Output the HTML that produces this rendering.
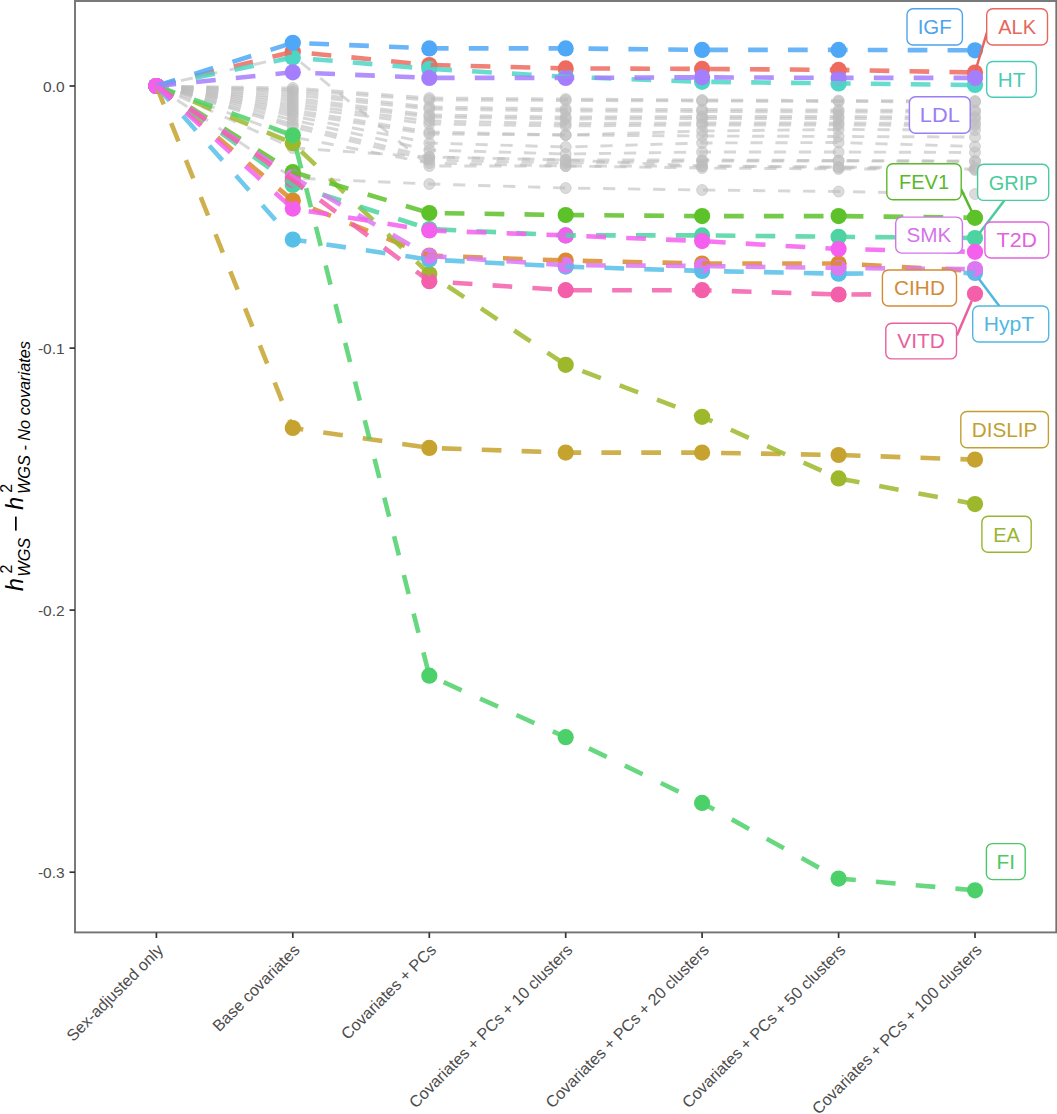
<!DOCTYPE html><html><head><meta charset="utf-8"><style>html,body{margin:0;padding:0;background:#fff;}svg{display:block;}text{font-family:"Liberation Sans",sans-serif;}</style></head><body>
<svg width="1057" height="1114" viewBox="0 0 1057 1114">
<rect x="0" y="0" width="1057" height="1114" fill="#fff"/>
<defs><clipPath id="pc"><rect x="75" y="1" width="980.5" height="931.5"/></clipPath></defs>
<g clip-path="url(#pc)">
<g fill="#BDBDBD" fill-opacity="0.55" stroke="#BDBDBD" stroke-opacity="0.55" stroke-width="1">
<circle cx="292.8" cy="88" r="5.5"/>
<circle cx="429.3" cy="98" r="5.5"/>
<circle cx="565.7" cy="99" r="5.5"/>
<circle cx="702.1" cy="100" r="5.5"/>
<circle cx="838.6" cy="100.5" r="5.5"/>
<circle cx="975" cy="101" r="5.5"/>
<circle cx="292.8" cy="90" r="5.5"/>
<circle cx="429.3" cy="100" r="5.5"/>
<circle cx="565.7" cy="100.5" r="5.5"/>
<circle cx="702.1" cy="101" r="5.5"/>
<circle cx="838.6" cy="101.5" r="5.5"/>
<circle cx="975" cy="102" r="5.5"/>
<circle cx="292.8" cy="92" r="5.5"/>
<circle cx="429.3" cy="107" r="5.5"/>
<circle cx="565.7" cy="109" r="5.5"/>
<circle cx="702.1" cy="109.5" r="5.5"/>
<circle cx="838.6" cy="110" r="5.5"/>
<circle cx="975" cy="110.5" r="5.5"/>
<circle cx="292.8" cy="95" r="5.5"/>
<circle cx="429.3" cy="109" r="5.5"/>
<circle cx="565.7" cy="111" r="5.5"/>
<circle cx="702.1" cy="111.5" r="5.5"/>
<circle cx="838.6" cy="112" r="5.5"/>
<circle cx="975" cy="112" r="5.5"/>
<circle cx="292.8" cy="98" r="5.5"/>
<circle cx="429.3" cy="115" r="5.5"/>
<circle cx="565.7" cy="117" r="5.5"/>
<circle cx="702.1" cy="116.5" r="5.5"/>
<circle cx="838.6" cy="116.5" r="5.5"/>
<circle cx="975" cy="117" r="5.5"/>
<circle cx="292.8" cy="101" r="5.5"/>
<circle cx="429.3" cy="117" r="5.5"/>
<circle cx="565.7" cy="119" r="5.5"/>
<circle cx="702.1" cy="118.5" r="5.5"/>
<circle cx="838.6" cy="118.5" r="5.5"/>
<circle cx="975" cy="119" r="5.5"/>
<circle cx="292.8" cy="104" r="5.5"/>
<circle cx="429.3" cy="121" r="5.5"/>
<circle cx="565.7" cy="123.5" r="5.5"/>
<circle cx="702.1" cy="123" r="5.5"/>
<circle cx="838.6" cy="123" r="5.5"/>
<circle cx="975" cy="123.5" r="5.5"/>
<circle cx="292.8" cy="107" r="5.5"/>
<circle cx="429.3" cy="124" r="5.5"/>
<circle cx="565.7" cy="126" r="5.5"/>
<circle cx="702.1" cy="125" r="5.5"/>
<circle cx="838.6" cy="125" r="5.5"/>
<circle cx="975" cy="125.5" r="5.5"/>
<circle cx="292.8" cy="110" r="5.5"/>
<circle cx="429.3" cy="132" r="5.5"/>
<circle cx="565.7" cy="135" r="5.5"/>
<circle cx="702.1" cy="131" r="5.5"/>
<circle cx="838.6" cy="129.5" r="5.5"/>
<circle cx="975" cy="130" r="5.5"/>
<circle cx="292.8" cy="113" r="5.5"/>
<circle cx="429.3" cy="134" r="5.5"/>
<circle cx="565.7" cy="135" r="5.5"/>
<circle cx="702.1" cy="136" r="5.5"/>
<circle cx="838.6" cy="136.5" r="5.5"/>
<circle cx="975" cy="137" r="5.5"/>
<circle cx="292.8" cy="116" r="5.5"/>
<circle cx="429.3" cy="143" r="5.5"/>
<circle cx="565.7" cy="147" r="5.5"/>
<circle cx="702.1" cy="143" r="5.5"/>
<circle cx="838.6" cy="142.5" r="5.5"/>
<circle cx="975" cy="146.5" r="5.5"/>
<circle cx="292.8" cy="120" r="5.5"/>
<circle cx="429.3" cy="150" r="5.5"/>
<circle cx="565.7" cy="154" r="5.5"/>
<circle cx="702.1" cy="152" r="5.5"/>
<circle cx="838.6" cy="152" r="5.5"/>
<circle cx="975" cy="152.5" r="5.5"/>
<circle cx="292.8" cy="124" r="5.5"/>
<circle cx="429.3" cy="157" r="5.5"/>
<circle cx="565.7" cy="160" r="5.5"/>
<circle cx="702.1" cy="160" r="5.5"/>
<circle cx="838.6" cy="160.5" r="5.5"/>
<circle cx="975" cy="161" r="5.5"/>
<circle cx="292.8" cy="127" r="5.5"/>
<circle cx="429.3" cy="160" r="5.5"/>
<circle cx="565.7" cy="163" r="5.5"/>
<circle cx="702.1" cy="161" r="5.5"/>
<circle cx="838.6" cy="161" r="5.5"/>
<circle cx="975" cy="161.5" r="5.5"/>
<circle cx="292.8" cy="137" r="5.5"/>
<circle cx="429.3" cy="163" r="5.5"/>
<circle cx="565.7" cy="166" r="5.5"/>
<circle cx="702.1" cy="166" r="5.5"/>
<circle cx="838.6" cy="167" r="5.5"/>
<circle cx="975" cy="168" r="5.5"/>
<circle cx="292.8" cy="148" r="5.5"/>
<circle cx="429.3" cy="157" r="5.5"/>
<circle cx="565.7" cy="160" r="5.5"/>
<circle cx="702.1" cy="166" r="5.5"/>
<circle cx="838.6" cy="167.5" r="5.5"/>
<circle cx="975" cy="170" r="5.5"/>
<circle cx="292.8" cy="178" r="5.5"/>
<circle cx="429.3" cy="184" r="5.5"/>
<circle cx="565.7" cy="188" r="5.5"/>
<circle cx="702.1" cy="190" r="5.5"/>
<circle cx="838.6" cy="191.5" r="5.5"/>
<circle cx="975" cy="194" r="5.5"/>
<circle cx="292.8" cy="56" r="5.5"/>
<circle cx="429.3" cy="166" r="5.5"/>
<circle cx="565.7" cy="166" r="5.5"/>
<circle cx="702.1" cy="168" r="5.5"/>
<circle cx="838.6" cy="169" r="5.5"/>
<circle cx="975" cy="169" r="5.5"/>
</g>
<g fill="none" stroke="#BDBDBD" stroke-opacity="0.6" stroke-width="2.9" stroke-dasharray="12.2 12.8">
<polyline points="156.4,86 292.8,88 429.3,98 565.7,99 702.1,100 838.6,100.5 975,101"/>
<polyline points="156.4,86 292.8,90 429.3,100 565.7,100.5 702.1,101 838.6,101.5 975,102"/>
<polyline points="156.4,86 292.8,92 429.3,107 565.7,109 702.1,109.5 838.6,110 975,110.5"/>
<polyline points="156.4,86 292.8,95 429.3,109 565.7,111 702.1,111.5 838.6,112 975,112"/>
<polyline points="156.4,86 292.8,98 429.3,115 565.7,117 702.1,116.5 838.6,116.5 975,117"/>
<polyline points="156.4,86 292.8,101 429.3,117 565.7,119 702.1,118.5 838.6,118.5 975,119"/>
<polyline points="156.4,86 292.8,104 429.3,121 565.7,123.5 702.1,123 838.6,123 975,123.5"/>
<polyline points="156.4,86 292.8,107 429.3,124 565.7,126 702.1,125 838.6,125 975,125.5"/>
<polyline points="156.4,86 292.8,110 429.3,132 565.7,135 702.1,131 838.6,129.5 975,130"/>
<polyline points="156.4,86 292.8,113 429.3,134 565.7,135 702.1,136 838.6,136.5 975,137"/>
<polyline points="156.4,86 292.8,116 429.3,143 565.7,147 702.1,143 838.6,142.5 975,146.5"/>
<polyline points="156.4,86 292.8,120 429.3,150 565.7,154 702.1,152 838.6,152 975,152.5"/>
<polyline points="156.4,86 292.8,124 429.3,157 565.7,160 702.1,160 838.6,160.5 975,161"/>
<polyline points="156.4,86 292.8,127 429.3,160 565.7,163 702.1,161 838.6,161 975,161.5"/>
<polyline points="156.4,86 292.8,137 429.3,163 565.7,166 702.1,166 838.6,167 975,168"/>
<polyline points="156.4,86 292.8,148 429.3,157 565.7,160 702.1,166 838.6,167.5 975,170"/>
<polyline points="156.4,86 292.8,178 429.3,184 565.7,188 702.1,190 838.6,191.5 975,194"/>
<polyline points="156.4,86 292.8,56 429.3,166 565.7,166 702.1,168 838.6,169 975,169"/>
</g>
<g>
<circle cx="156.4" cy="86" r="8.1" fill="#EE6A5F"/>
<circle cx="292.8" cy="51.7" r="8.1" fill="#EE6A5F"/>
<circle cx="429.3" cy="65" r="8.1" fill="#EE6A5F"/>
<circle cx="565.7" cy="68.4" r="8.1" fill="#EE6A5F"/>
<circle cx="702.1" cy="68.9" r="8.1" fill="#EE6A5F"/>
<circle cx="838.6" cy="69.9" r="8.1" fill="#EE6A5F"/>
<circle cx="975" cy="72.5" r="8.1" fill="#EE6A5F"/>
<circle cx="156.4" cy="86" r="8.1" fill="#DC8A2B"/>
<circle cx="292.8" cy="200.5" r="8.1" fill="#DC8A2B"/>
<circle cx="429.3" cy="255.6" r="8.1" fill="#DC8A2B"/>
<circle cx="565.7" cy="260.5" r="8.1" fill="#DC8A2B"/>
<circle cx="702.1" cy="263.5" r="8.1" fill="#DC8A2B"/>
<circle cx="838.6" cy="263.5" r="8.1" fill="#DC8A2B"/>
<circle cx="975" cy="271" r="8.1" fill="#DC8A2B"/>
<circle cx="156.4" cy="86" r="8.1" fill="#C6A22E"/>
<circle cx="292.8" cy="428" r="8.1" fill="#C6A22E"/>
<circle cx="429.3" cy="447.9" r="8.1" fill="#C6A22E"/>
<circle cx="565.7" cy="452.6" r="8.1" fill="#C6A22E"/>
<circle cx="702.1" cy="452.6" r="8.1" fill="#C6A22E"/>
<circle cx="838.6" cy="455" r="8.1" fill="#C6A22E"/>
<circle cx="975" cy="459.6" r="8.1" fill="#C6A22E"/>
<circle cx="156.4" cy="86" r="8.1" fill="#9DB92B"/>
<circle cx="292.8" cy="143.2" r="8.1" fill="#9DB92B"/>
<circle cx="429.3" cy="274" r="8.1" fill="#9DB92B"/>
<circle cx="565.7" cy="364.8" r="8.1" fill="#9DB92B"/>
<circle cx="702.1" cy="416.8" r="8.1" fill="#9DB92B"/>
<circle cx="838.6" cy="478.4" r="8.1" fill="#9DB92B"/>
<circle cx="975" cy="504.1" r="8.1" fill="#9DB92B"/>
<circle cx="156.4" cy="86" r="8.1" fill="#5DC12A"/>
<circle cx="292.8" cy="172" r="8.1" fill="#5DC12A"/>
<circle cx="429.3" cy="213" r="8.1" fill="#5DC12A"/>
<circle cx="565.7" cy="215" r="8.1" fill="#5DC12A"/>
<circle cx="702.1" cy="216.1" r="8.1" fill="#5DC12A"/>
<circle cx="838.6" cy="216.1" r="8.1" fill="#5DC12A"/>
<circle cx="975" cy="217.8" r="8.1" fill="#5DC12A"/>
<circle cx="156.4" cy="86" r="8.1" fill="#4CD16A"/>
<circle cx="292.8" cy="135.3" r="8.1" fill="#4CD16A"/>
<circle cx="429.3" cy="675.7" r="8.1" fill="#4CD16A"/>
<circle cx="565.7" cy="737.2" r="8.1" fill="#4CD16A"/>
<circle cx="702.1" cy="802.9" r="8.1" fill="#4CD16A"/>
<circle cx="838.6" cy="878.6" r="8.1" fill="#4CD16A"/>
<circle cx="975" cy="890.3" r="8.1" fill="#4CD16A"/>
<circle cx="156.4" cy="86" r="8.1" fill="#4DD3A2"/>
<circle cx="292.8" cy="185" r="8.1" fill="#4DD3A2"/>
<circle cx="429.3" cy="229" r="8.1" fill="#4DD3A2"/>
<circle cx="565.7" cy="235.4" r="8.1" fill="#4DD3A2"/>
<circle cx="702.1" cy="235.4" r="8.1" fill="#4DD3A2"/>
<circle cx="838.6" cy="236.8" r="8.1" fill="#4DD3A2"/>
<circle cx="975" cy="238" r="8.1" fill="#4DD3A2"/>
<circle cx="156.4" cy="86" r="8.1" fill="#4DD6C5"/>
<circle cx="292.8" cy="57.5" r="8.1" fill="#4DD6C5"/>
<circle cx="429.3" cy="68.8" r="8.1" fill="#4DD6C5"/>
<circle cx="565.7" cy="76.8" r="8.1" fill="#4DD6C5"/>
<circle cx="702.1" cy="81.8" r="8.1" fill="#4DD6C5"/>
<circle cx="838.6" cy="83.4" r="8.1" fill="#4DD6C5"/>
<circle cx="975" cy="85" r="8.1" fill="#4DD6C5"/>
<circle cx="156.4" cy="86" r="8.1" fill="#55C0E8"/>
<circle cx="292.8" cy="239.6" r="8.1" fill="#55C0E8"/>
<circle cx="429.3" cy="259.6" r="8.1" fill="#55C0E8"/>
<circle cx="565.7" cy="266.6" r="8.1" fill="#55C0E8"/>
<circle cx="702.1" cy="270.9" r="8.1" fill="#55C0E8"/>
<circle cx="838.6" cy="273.7" r="8.1" fill="#55C0E8"/>
<circle cx="975" cy="273" r="8.1" fill="#55C0E8"/>
<circle cx="156.4" cy="86" r="8.1" fill="#4FA8F7"/>
<circle cx="292.8" cy="42.8" r="8.1" fill="#4FA8F7"/>
<circle cx="429.3" cy="48.4" r="8.1" fill="#4FA8F7"/>
<circle cx="565.7" cy="48.4" r="8.1" fill="#4FA8F7"/>
<circle cx="702.1" cy="49.9" r="8.1" fill="#4FA8F7"/>
<circle cx="838.6" cy="49.9" r="8.1" fill="#4FA8F7"/>
<circle cx="975" cy="50.3" r="8.1" fill="#4FA8F7"/>
<circle cx="156.4" cy="86" r="8.1" fill="#A57EFE"/>
<circle cx="292.8" cy="72.3" r="8.1" fill="#A57EFE"/>
<circle cx="429.3" cy="77.9" r="8.1" fill="#A57EFE"/>
<circle cx="565.7" cy="77.9" r="8.1" fill="#A57EFE"/>
<circle cx="702.1" cy="77.3" r="8.1" fill="#A57EFE"/>
<circle cx="838.6" cy="77.9" r="8.1" fill="#A57EFE"/>
<circle cx="975" cy="77.9" r="8.1" fill="#A57EFE"/>
<circle cx="156.4" cy="86" r="8.1" fill="#DC78F2"/>
<circle cx="292.8" cy="177" r="8.1" fill="#DC78F2"/>
<circle cx="429.3" cy="256" r="8.1" fill="#DC78F2"/>
<circle cx="565.7" cy="265.2" r="8.1" fill="#DC78F2"/>
<circle cx="702.1" cy="266" r="8.1" fill="#DC78F2"/>
<circle cx="838.6" cy="268" r="8.1" fill="#DC78F2"/>
<circle cx="975" cy="269.1" r="8.1" fill="#DC78F2"/>
<circle cx="156.4" cy="86" r="8.1" fill="#F45FAA"/>
<circle cx="292.8" cy="180" r="8.1" fill="#F45FAA"/>
<circle cx="429.3" cy="281.2" r="8.1" fill="#F45FAA"/>
<circle cx="565.7" cy="290.2" r="8.1" fill="#F45FAA"/>
<circle cx="702.1" cy="290.2" r="8.1" fill="#F45FAA"/>
<circle cx="838.6" cy="294.5" r="8.1" fill="#F45FAA"/>
<circle cx="975" cy="293.8" r="8.1" fill="#F45FAA"/>
<circle cx="156.4" cy="86" r="8.1" fill="#F55FEE"/>
<circle cx="292.8" cy="208.6" r="8.1" fill="#F55FEE"/>
<circle cx="429.3" cy="230.5" r="8.1" fill="#F55FEE"/>
<circle cx="565.7" cy="235.4" r="8.1" fill="#F55FEE"/>
<circle cx="702.1" cy="241.1" r="8.1" fill="#F55FEE"/>
<circle cx="838.6" cy="249" r="8.1" fill="#F55FEE"/>
<circle cx="975" cy="251.8" r="8.1" fill="#F55FEE"/>
</g>
<g fill="none" stroke-width="4.6" stroke-dasharray="19.7 20.2" stroke-opacity="0.85">
<polyline points="156.4,86 292.8,51.7 429.3,65 565.7,68.4 702.1,68.9 838.6,69.9 975,72.5" stroke="#EE6A5F"/>
<polyline points="156.4,86 292.8,200.5 429.3,255.6 565.7,260.5 702.1,263.5 838.6,263.5 975,271" stroke="#DC8A2B"/>
<polyline points="156.4,86 292.8,428 429.3,447.9 565.7,452.6 702.1,452.6 838.6,455 975,459.6" stroke="#C6A22E"/>
<polyline points="156.4,86 292.8,143.2 429.3,274 565.7,364.8 702.1,416.8 838.6,478.4 975,504.1" stroke="#9DB92B"/>
<polyline points="156.4,86 292.8,172 429.3,213 565.7,215 702.1,216.1 838.6,216.1 975,217.8" stroke="#5DC12A"/>
<polyline points="156.4,86 292.8,135.3 429.3,675.7 565.7,737.2 702.1,802.9 838.6,878.6 975,890.3" stroke="#4CD16A"/>
<polyline points="156.4,86 292.8,185 429.3,229 565.7,235.4 702.1,235.4 838.6,236.8 975,238" stroke="#4DD3A2"/>
<polyline points="156.4,86 292.8,57.5 429.3,68.8 565.7,76.8 702.1,81.8 838.6,83.4 975,85" stroke="#4DD6C5"/>
<polyline points="156.4,86 292.8,239.6 429.3,259.6 565.7,266.6 702.1,270.9 838.6,273.7 975,273" stroke="#55C0E8"/>
<polyline points="156.4,86 292.8,42.8 429.3,48.4 565.7,48.4 702.1,49.9 838.6,49.9 975,50.3" stroke="#4FA8F7"/>
<polyline points="156.4,86 292.8,72.3 429.3,77.9 565.7,77.9 702.1,77.3 838.6,77.9 975,77.9" stroke="#A57EFE"/>
<polyline points="156.4,86 292.8,177 429.3,256 565.7,265.2 702.1,266 838.6,268 975,269.1" stroke="#DC78F2"/>
<polyline points="156.4,86 292.8,180 429.3,281.2 565.7,290.2 702.1,290.2 838.6,294.5 975,293.8" stroke="#F45FAA"/>
<polyline points="156.4,86 292.8,208.6 429.3,230.5 565.7,235.4 702.1,241.1 838.6,249 975,251.8" stroke="#F55FEE"/>
</g>
<g stroke-width="2.5">
<line x1="975.5" y1="70.5" x2="987.2" y2="31.6" stroke="#E5675E"/>
<line x1="960.8" y1="188.5" x2="971.7" y2="211.2" stroke="#5AB82A"/>
<line x1="1004.3" y1="200.4" x2="979.6" y2="233" stroke="#4CCB9C"/>
<line x1="999.3" y1="306" x2="978.6" y2="278.4" stroke="#50B8E0"/>
<line x1="956.9" y1="335.6" x2="971.7" y2="301" stroke="#E8619E"/>
</g>
<g font-size="20" text-anchor="middle">
<rect x="907" y="8.8" width="55.4" height="36.2" rx="6" ry="6" fill="#fff" stroke="#4FA3EC" stroke-width="1.4"/>
<text x="934.7" y="34.1" fill="#4FA3EC" textLength="34" lengthAdjust="spacingAndGlyphs">IGF</text>
<rect x="986.7" y="8.8" width="60.8" height="36.2" rx="6" ry="6" fill="#fff" stroke="#E5675E" stroke-width="1.4"/>
<text x="1017.1" y="34.1" fill="#E5675E">ALK</text>
<rect x="986.7" y="61.5" width="49.6" height="35.8" rx="6" ry="6" fill="#fff" stroke="#49CBB9" stroke-width="1.4"/>
<text x="1011.5" y="86.6" fill="#49CBB9" textLength="27.5" lengthAdjust="spacingAndGlyphs">HT</text>
<rect x="909.4" y="96.8" width="60.8" height="36.4" rx="6" ry="6" fill="#fff" stroke="#9A7EF5" stroke-width="1.4"/>
<text x="939.8" y="122.2" fill="#9A7EF5" textLength="40" lengthAdjust="spacingAndGlyphs">LDL</text>
<rect x="886.8" y="163.8" width="74.4" height="36" rx="6" ry="6" fill="#fff" stroke="#5AB82A" stroke-width="1.4"/>
<text x="924" y="189" fill="#5AB82A">FEV1</text>
<rect x="977.6" y="164.2" width="71.1" height="36.2" rx="6" ry="6" fill="#fff" stroke="#4CCB9C" stroke-width="1.4"/>
<text x="1013.2" y="189.5" fill="#4CCB9C">GRIP</text>
<rect x="895.7" y="217.1" width="66.7" height="36" rx="6" ry="6" fill="#fff" stroke="#D474EA" stroke-width="1.4"/>
<text x="929" y="242.3" fill="#D474EA" textLength="44.9" lengthAdjust="spacingAndGlyphs">SMK</text>
<rect x="984.9" y="222" width="63.8" height="36" rx="6" ry="6" fill="#fff" stroke="#E163DE" stroke-width="1.4"/>
<text x="1016.8" y="247.2" fill="#E163DE" textLength="40.4" lengthAdjust="spacingAndGlyphs">T2D</text>
<rect x="882.4" y="270" width="74.1" height="36" rx="6" ry="6" fill="#fff" stroke="#D48A35" stroke-width="1.4"/>
<text x="919.5" y="295.2" fill="#D48A35" textLength="50.8" lengthAdjust="spacingAndGlyphs">CIHD</text>
<rect x="972.7" y="306" width="76" height="36" rx="6" ry="6" fill="#fff" stroke="#50B8E0" stroke-width="1.4"/>
<text x="1008.9" y="331.2" fill="#50B8E0" textLength="50.3" lengthAdjust="spacingAndGlyphs">HypT</text>
<rect x="885.8" y="323.2" width="70.7" height="35.7" rx="6" ry="6" fill="#fff" stroke="#E8619E" stroke-width="1.4"/>
<text x="921.1" y="348.2" fill="#E8619E" textLength="47.6" lengthAdjust="spacingAndGlyphs">VITD</text>
<rect x="960.8" y="411.5" width="87.6" height="36.2" rx="6" ry="6" fill="#fff" stroke="#C29F32" stroke-width="1.4"/>
<text x="1004.6" y="436.8" fill="#C29F32" textLength="65.6" lengthAdjust="spacingAndGlyphs">DISLIP</text>
<rect x="981.9" y="516.3" width="49.3" height="35.9" rx="6" ry="6" fill="#fff" stroke="#98B530" stroke-width="1.4"/>
<text x="1006.5" y="541.5" fill="#98B530">EA</text>
<rect x="986.4" y="843.6" width="38.8" height="36" rx="6" ry="6" fill="#fff" stroke="#4CC867" stroke-width="1.4"/>
<text x="1005.8" y="868.8" fill="#4CC867" textLength="18.5" lengthAdjust="spacingAndGlyphs">FI</text>
</g>
</g>
<rect x="75" y="1" width="981.3" height="931.4" fill="none" stroke="#737373" stroke-width="1.9"/>
<g stroke="#333" stroke-width="1.7">
<line x1="69.5" y1="86" x2="75" y2="86"/>
<line x1="69.5" y1="348.1" x2="75" y2="348.1"/>
<line x1="69.5" y1="610.1" x2="75" y2="610.1"/>
<line x1="69.5" y1="872.2" x2="75" y2="872.2"/>
<line x1="156.4" y1="932.5" x2="156.4" y2="938" />
<line x1="292.8" y1="932.5" x2="292.8" y2="938" />
<line x1="429.3" y1="932.5" x2="429.3" y2="938" />
<line x1="565.7" y1="932.5" x2="565.7" y2="938" />
<line x1="702.1" y1="932.5" x2="702.1" y2="938" />
<line x1="838.6" y1="932.5" x2="838.6" y2="938" />
<line x1="975" y1="932.5" x2="975" y2="938" />
</g>
<g font-size="15.5" fill="#4D4D4D" text-anchor="end">
<text x="64.6" y="92">0.0</text>
<text x="64.6" y="354.1">-0.1</text>
<text x="64.6" y="616.1">-0.2</text>
<text x="64.6" y="878.2">-0.3</text>
</g>
<g font-size="16.2" fill="#4D4D4D" text-anchor="end">
<text transform="translate(156.1,943) rotate(-45)" x="0" y="11.5">Sex-adjusted only</text>
<text transform="translate(292.5,943) rotate(-45)" x="0" y="11.5">Base covariates</text>
<text transform="translate(429,943) rotate(-45)" x="0" y="11.5">Covariates + PCs</text>
<text transform="translate(565.4,943) rotate(-45)" x="0" y="11.5">Covariates + PCs + 10 clusters</text>
<text transform="translate(701.8,943) rotate(-45)" x="0" y="11.5">Covariates + PCs + 20 clusters</text>
<text transform="translate(838.3,943) rotate(-45)" x="0" y="11.5">Covariates + PCs + 50 clusters</text>
<text transform="translate(974.7,943) rotate(-45)" x="0" y="11.5">Covariates + PCs + 100 clusters</text>
</g>
<g transform="translate(22.5,591) rotate(-90)" fill="#000" font-style="italic">
<text x="0" y="0" font-size="23">h</text>
<text x="17.6" y="-11" font-size="16" font-style="normal">2</text>
<text x="14.3" y="7" font-size="16.3">WGS</text>
<rect x="60.4" y="-7.5" width="14" height="1.7" fill="#000"/>
<text x="81.2" y="0" font-size="23">h</text>
<text x="98.2" y="-11" font-size="16" font-style="normal">2</text>
<text x="97" y="7" font-size="16.3">WGS - No covariates</text>
</g>
</svg></body></html>
